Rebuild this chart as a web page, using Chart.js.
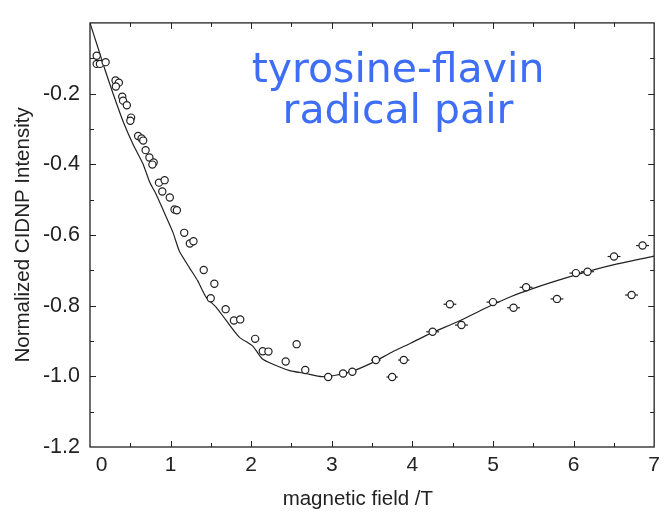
<!DOCTYPE html>
<html>
<head>
<meta charset="utf-8">
<script src="https://cdn.jsdelivr.net/npm/chart.js@4.4.1/dist/chart.umd.min.js"></script>
<style>
  html, body { margin: 0; padding: 0; background: #fff; }
  #wrap { width: 666px; height: 512px; }
</style>
</head>
<body>
<div id="wrap"><canvas id="myChart" width="666" height="512"></canvas></div>
<script>
// measured CIDNP points (field in T, normalized intensity)
const fieldPts = [0.083, 0.083, 0.123, 0.194, 0.317, 0.358, 0.321, 0.40, 0.41, 0.457,
  0.51, 0.50, 0.597, 0.64, 0.66, 0.69, 0.737, 0.79, 0.774, 0.856,
  0.926, 0.897, 0.99, 1.049, 1.078, 1.169, 1.239, 1.284, 1.411, 1.543,
  1.498, 1.683, 1.786, 1.864, 2.049, 2.144, 2.214, 2.428, 2.564, 2.671,
  2.955, 3.14, 3.255, 3.547, 3.749, 3.893, 4.251, 4.465, 4.609, 5.0,
  5.255, 5.411, 5.794, 6.029, 6.173, 6.502, 6.72, 6.856]
const intensityPts = [-0.093, -0.116, -0.116, -0.111, -0.163, -0.169, -0.180, -0.209, -0.220, -0.233,
  -0.268, -0.277, -0.320, -0.327, -0.333, -0.360, -0.381, -0.395, -0.401, -0.452,
  -0.445, -0.477, -0.494, -0.528, -0.530, -0.594, -0.624, -0.618, -0.699, -0.738,
  -0.779, -0.810, -0.842, -0.839, -0.894, -0.929, -0.930, -0.958, -0.909, -0.982,
  -1.002, -0.992, -0.987, -0.954, -1.002, -0.954, -0.874, -0.796, -0.855, -0.790,
  -0.806, -0.748, -0.781, -0.708, -0.704, -0.661, -0.770, -0.630]
// horizontal error (T)
const fieldErr = [0, 0, 0, 0, 0, 0, 0, 0, 0, 0,
  0, 0, 0, 0, 0, 0, 0, 0, 0, 0,
  0, 0, 0, 0, 0, 0, 0, 0, 0, 0,
  0, 0, 0, 0, 0, 0, 0, 0, 0, 0,
  0.05, 0.05, 0.05, 0.06, 0.07, 0.07, 0.08, 0.08, 0.08, 0.08,
  0.08, 0.08, 0.08, 0.08, 0.08, 0.08, 0.08, 0.08]

// simulated curve
const simField = [0, 0.083, 0.185, 0.288, 0.411, 0.535, 0.658, 0.74, 0.823, 0.905,
  1.028, 1.111, 1.235, 1.337, 1.44, 1.564, 1.687, 1.852, 2.016, 2.14,
  2.263, 2.469, 2.675, 2.88, 3.045, 3.25, 3.498, 3.745, 3.99, 4.238,
  4.568, 4.897, 5.226, 5.556, 5.885, 6.214, 6.543, 7.0]
const simIntensity = [0, -0.059, -0.132, -0.201, -0.279, -0.344, -0.399, -0.450, -0.486, -0.528,
  -0.592, -0.647, -0.693, -0.730, -0.776, -0.804, -0.841, -0.889, -0.914, -0.951,
  -0.965, -0.983, -0.992, -1.001, -0.997, -0.986, -0.962, -0.932, -0.905, -0.877,
  -0.845, -0.808, -0.774, -0.747, -0.723, -0.701, -0.682, -0.660]

const xTicks = [0, 1, 2, 3, 4, 5, 6, 7]
const yTicks = [-1.2, -1.0, -0.8, -0.6, -0.4, -0.2]
const noteLines = ['tyrosine-flavin', 'radical pair']

const ink = '#222'

const frame = {
  id: 'frame',
  beforeDatasetsDraw: chart => {
    // error bars under the circles
    let ctx = chart.ctx
    let xs = chart.scales.x, ys = chart.scales.y
    ctx.save()
    ctx.strokeStyle = ink
    ctx.lineWidth = 1.2
    for (let i = 0; i < fieldPts.length; i++) {
      if (!fieldErr[i]) continue
      const py = ys.getPixelForValue(intensityPts[i])
      ctx.beginPath()
      ctx.moveTo(xs.getPixelForValue(fieldPts[i] - fieldErr[i]), py)
      ctx.lineTo(xs.getPixelForValue(fieldPts[i] + fieldErr[i]), py)
      ctx.stroke()
    }
    ctx.restore()
  },
  afterDraw: chart => {
    let ctx = chart.ctx
    let a = chart.chartArea
    let xs = chart.scales.x, ys = chart.scales.y
    ctx.save()
    ctx.strokeStyle = ink
    ctx.lineWidth = 1.3
    ctx.strokeRect(a.left, a.top, a.right - a.left, a.bottom - a.top)
    ctx.lineWidth = 1
    // inward ticks on all four sides
    for (let v = 0.5; v < 7; v += 0.5) {
      const px = Math.round(xs.getPixelForValue(v)) + 0.5
      const len = Number.isInteger(v) ? 6 : 4
      ctx.beginPath()
      ctx.moveTo(px, a.bottom); ctx.lineTo(px, a.bottom - len)
      ctx.moveTo(px, a.top); ctx.lineTo(px, a.top + len)
      ctx.stroke()
    }
    for (let k = 1; k < 12; k++) {
      const py = Math.round(ys.getPixelForValue(-k / 10)) + 0.5
      const len = k % 2 === 0 ? 6 : 4
      ctx.beginPath()
      ctx.moveTo(a.left, py); ctx.lineTo(a.left + len, py)
      ctx.moveTo(a.right, py); ctx.lineTo(a.right - len, py)
      ctx.stroke()
    }
    // blue note
    ctx.fillStyle = '#3d6ef5'
    ctx.font = '41px "DejaVu Sans"'
    ctx.textAlign = 'center'
    ctx.textBaseline = 'alphabetic'
    ctx.fillText(noteLines[0], 398, 82)
    ctx.fillText(noteLines[1], 398, 123)
    ctx.restore()
  }
}

new Chart('myChart', {
  type: 'scatter',
  plugins: [frame],
  data: {
    datasets: [
      {
        label: 'experiment',
        data: fieldPts.map((f, i) => ({ x: f, y: intensityPts[i] })),
        pointRadius: 3.6,
        pointBorderWidth: 1.2,
        pointBorderColor: ink,
        pointBackgroundColor: '#fff',
        showLine: false
      },
      {
        label: 'simulation',
        data: simField.map((f, i) => ({ x: f, y: simIntensity[i] })),
        showLine: true,
        pointRadius: 0,
        borderColor: ink,
        borderWidth: 1.2,
        tension: 0.2,
        fill: false
      }
    ]
  },
  options: {
    responsive: false,
    animation: false,
    layout: { padding: { top: 12, right: 9, left: 0, bottom: 0 } },
    plugins: {
      legend: { display: false },
      tooltip: { enabled: false }
    },
    scales: {
      x: {
        type: 'linear',
        min: 0,
        max: 7,
        afterFit: s => { s.height = 65 },
        afterBuildTicks: s => { s.ticks = xTicks.map(v => ({ value: v })) },
        grid: { display: false, drawTicks: false },
        border: { display: false },
        ticks: {
          padding: 6,
          color: ink,
          font: { family: '"Liberation Sans", Arial', size: 21 },
          maxRotation: 0,
          callback: v => (v === 0 ? '    0' : String(v))
        },
        title: {
          display: true,
          // trailing spaces nudge the title left like the original
          text: 'magnetic field /T\u00a0\u00a0\u00a0\u00a0\u00a0',
          color: ink,
          font: { family: '"Liberation Sans", Arial', size: 20.5 },
          padding: { top: 0, bottom: 0 }
        }
      },
      y: {
        type: 'linear',
        min: -1.2,
        max: 0,
        afterFit: s => { s.width = 90 },
        afterBuildTicks: s => { s.ticks = yTicks.map(v => ({ value: v })) },
        grid: { display: false, drawTicks: false },
        border: { display: false },
        ticks: {
          padding: 10,
          color: ink,
          font: { family: '"Liberation Sans", Arial', size: 21.5 },
          callback: v => v.toFixed(1)
        },
        title: {
          display: true,
          text: 'Normalized CIDNP Intensity',
          color: ink,
          font: { family: '"Liberation Sans", Arial', size: 20.5 },
          padding: { top: 11, bottom: 0 }
        }
      }
    }
  }
})
</script>
</body>
</html>
